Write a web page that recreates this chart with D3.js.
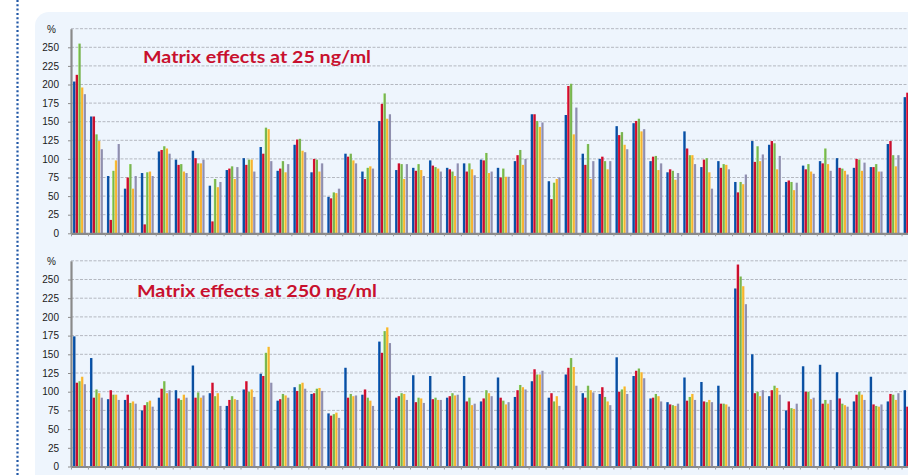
<!DOCTYPE html>
<html>
<head>
<meta charset="utf-8">
<script src="https://cdn.jsdelivr.net/npm/d3@7"></script>
<style>
  body { margin: 0; background: #ffffff; }
  svg { display: block; }
</style>
</head>
<body>
<svg id="chart_svg" width="908" height="475"></svg>
<script>
// one group of bars per compound, 5 replicate series per group
var compounds = d3.range(1, 51).map(function (i) { return "C" + i; });
var seriesNames = ["S1", "S2", "S3", "S4", "S5"];
var seriesColors = ["#0b4e9d", "#c8102e", "#79b451", "#f7b233", "#8f8fae"];
var yTicks = [0, 25, 50, 75, 100, 125, 150, 175, 200, 225, 250];

// matrix effects at 25 ng/ml (%)
var s1_25 = [204,157,77,60,81,110,99,111,64,85,101,116,84,119,82,49,107,83,151,85,88,98,88,94,99,88,97,160,70,159,107,100,144,148,97,82,137,89,97,69,124,119,69,91,97,101,88,89,120,183];
var s2_25 = [213,157,18,75,12,112,92,101,16,87,92,107,87,126,100,47,103,73,174,94,84,91,86,83,98,75,105,160,46,198,92,103,132,151,103,86,114,99,88,55,96,124,71,86,94,88,100,89,124,189];
var s3_25 = [255,133,84,93,82,117,93,94,73,90,99,142,97,127,99,55,107,88,188,93,93,89,83,94,108,87,112,151,68,201,120,97,136,154,104,84,105,101,93,69,117,121,69,93,114,87,99,93,105,110];
var s4_25 = [196,124,98,60,83,114,83,94,62,73,99,140,82,111,83,54,98,90,154,73,85,87,77,86,81,76,92,143,73,133,73,86,119,137,85,72,105,82,92,66,97,86,58,83,93,84,84,83,90,90];
var s5_25 = [187,113,120,77,77,107,81,99,69,89,83,97,93,109,94,60,94,87,160,93,77,83,94,78,83,76,100,149,75,169,97,97,113,140,94,81,93,60,86,79,106,104,68,80,84,79,95,83,105,100];

// matrix effects at 250 ng/ml (%)
var s1_250 = [174,145,90,89,75,92,102,135,98,81,103,124,88,106,97,71,132,96,167,92,122,121,92,121,87,119,93,114,92,123,98,97,146,121,91,86,119,113,108,238,150,94,75,134,136,126,87,120,87,102];
var s2_250 = [112,92,102,96,82,104,91,92,112,89,114,121,90,101,98,68,92,103,152,94,86,90,94,87,91,92,102,130,98,132,92,106,100,128,92,83,88,87,84,270,98,102,87,100,84,91,96,83,97,80];
var s3_250 = [114,103,96,85,86,114,89,99,94,94,100,152,97,110,104,70,97,92,181,98,92,92,98,92,102,88,109,123,87,145,108,93,103,131,97,82,93,86,84,254,100,108,78,100,89,84,100,81,96,96];
var s4_250 = [120,98,96,87,88,98,96,92,98,90,103,160,95,112,105,72,94,88,186,97,91,89,95,82,98,83,106,123,94,133,102,87,107,126,94,81,97,89,83,241,94,105,77,90,84,82,96,80,89,90];
var s5_250 = [110,92,89,84,80,102,92,95,81,89,93,112,92,104,101,65,95,81,165,89,85,89,96,84,94,86,103,128,81,108,99,82,97,118,87,84,89,86,80,217,102,96,84,92,89,80,89,83,98,95];

var panels = [
    {title: "Matrix effects at 25 ng/ml", series: [s1_25, s2_25, s3_25, s4_25, s5_25],
     y0: 233.3, yTop: 28.7, titleX: 143, titleY: 63, titleW: 228},
    {title: "Matrix effects at 250 ng/ml", series: [s1_250, s2_250, s3_250, s4_250, s5_250],
     y0: 466.5, yTop: 260.8, titleX: 137, titleY: 297, titleW: 240}
];

var axisX = 71;
var step = 16.95;

document.addEventListener('DOMContentLoaded', function () {
    var svg = d3.select("#chart_svg");

    // gradients to get the slight excel bevel on each bar
    var defs = svg.append("defs");
    seriesColors.forEach(function (c, i) {
        var g = defs.append("linearGradient")
            .attr("id", "grad" + i)
            .attr("x1", "0%").attr("x2", "100%")
            .attr("y1", "0%").attr("y2", "0%");
        g.append("stop").attr("offset", "0%").attr("stop-color", d3.color(c).brighter(0.8));
        g.append("stop").attr("offset", "35%").attr("stop-color", c);
        g.append("stop").attr("offset", "100%").attr("stop-color", c);
    });

    // light panel behind both charts
    svg.append("rect")
        .attr("x", 35).attr("y", 12)
        .attr("width", 920).attr("height", 520)
        .attr("rx", 14)
        .attr("fill", "#eef5fd");

    // dotted border on the left
    svg.append("line")
        .attr("x1", 17.5).attr("x2", 17.5)
        .attr("y1", 0).attr("y2", 475)
        .attr("stroke", "#2157a6")
        .attr("stroke-width", 2.2)
        .attr("stroke-dasharray", "2,2.3");

    var x0 = d3.scaleBand()
        .domain(compounds)
        .range([axisX, axisX + step * compounds.length])
        .paddingInner(0.22)
        .paddingOuter(0.11);
    var x1 = d3.scaleBand()
        .domain(seriesNames)
        .range([0, x0.bandwidth()])
        .padding(0.06);
    var xLin = d3.scaleLinear()
        .domain([0, compounds.length])
        .range([axisX, axisX + step * compounds.length]);

    panels.forEach(function (p) {
        var y = d3.scaleLinear().domain([0, 275]).range([p.y0, p.yTop]);
        var g = svg.append("g");

        // dashed gridlines
        g.selectAll(".grid")
            .data(yTicks.slice(1).concat([275]))
            .enter()
            .append("line")
            .attr("x1", axisX).attr("x2", 908)
            .attr("y1", d => y(d)).attr("y2", d => y(d))
            .attr("stroke", "#b4b8c0")
            .attr("stroke-width", 1)
            .attr("stroke-dasharray", "3,1.5");

        // bars
        var rows = compounds.map(function (c, i) {
            return seriesNames.map(function (s, j) {
                return {compound: c, series: s, idx: j, value: p.series[j][i]};
            });
        });
        g.selectAll(".grp")
            .data(rows)
            .enter()
            .append("g")
            .attr("transform", (d, i) => "translate(" + x0(compounds[i]) + ",0)")
            .selectAll("rect")
            .data(d => d)
            .enter()
            .append("rect")
            .attr("x", d => x1(d.series))
            .attr("y", d => y(d.value))
            .attr("width", x1.bandwidth())
            .attr("height", d => p.y0 - y(d.value))
            .attr("fill", d => "url(#grad" + d.idx + ")");

        // y axis
        var yAxis = d3.axisLeft(y)
            .tickValues(yTicks)
            .tickSizeInner(3)
            .tickSizeOuter(0)
            .tickPadding(9);
        var ya = g.append("g")
            .attr("transform", "translate(" + axisX + ",0)")
            .call(yAxis);
        ya.select(".domain").attr("stroke", "#8a8a8a").attr("stroke-width", 2.2);
        ya.selectAll(".tick line").attr("stroke", "#8a8a8a");
        ya.selectAll("text")
            .attr("fill", "#1a1a1a")
            .style("font-family", "'Liberation Sans', Arial, sans-serif")
            .style("font-size", "10px");

        g.append("text")
            .attr("x", 56).attr("y", y(275) + 4)
            .attr("text-anchor", "end")
            .attr("fill", "#1a1a1a")
            .style("font-family", "'Liberation Sans', Arial, sans-serif")
            .style("font-size", "10px")
            .text("%");

        // x axis with ticks between groups
        var xAxis = d3.axisBottom(xLin)
            .tickValues(d3.range(compounds.length + 1))
            .tickFormat("")
            .tickSizeInner(3)
            .tickSizeOuter(0);
        var xa = g.append("g")
            .attr("transform", "translate(0," + p.y0 + ")")
            .call(xAxis);
        xa.select(".domain").attr("stroke", "#8a8a8a").attr("stroke-width", 2.2);
        xa.selectAll(".tick line").attr("stroke", "#9a9a9a");

        // title
        g.append("text")
            .attr("x", p.titleX).attr("y", p.titleY)
            .attr("fill", "#c8102e")
            .attr("textLength", p.titleW)
            .attr("lengthAdjust", "spacingAndGlyphs")
            .style("font-family", "Lato, 'Open Sans', sans-serif")
            .style("font-weight", "bold")
            .style("font-size", "17px")
            .text(p.title);
    });
});
</script>
</body>
</html>
